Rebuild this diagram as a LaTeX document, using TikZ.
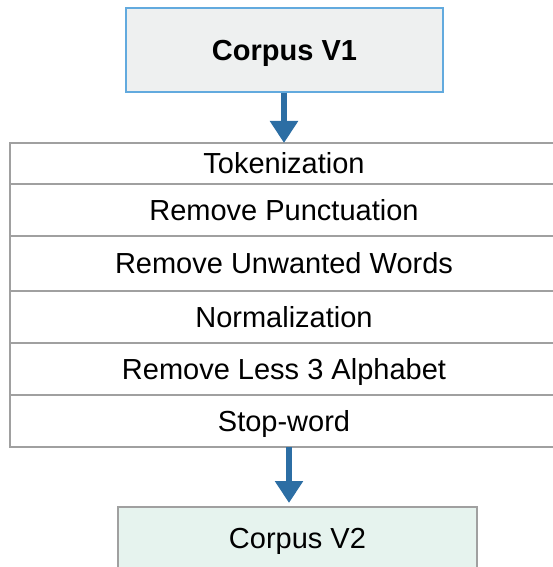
\documentclass[tikz,border=0pt]{standalone}
\usepackage{fontspec}
\setmainfont{Liberation Sans}
\usetikzlibrary{arrows.meta}
\definecolor{arrowblue}{RGB}{44,110,164}
\definecolor{topfill}{RGB}{238,240,240}
\definecolor{topedge}{RGB}{98,170,222}
\definecolor{rowedge}{RGB}{160,160,160}
\definecolor{botfill}{RGB}{230,243,238}
\tikzset{
  txt/.style={font=\fontsize{29}{34}\selectfont, text height=20.8pt, text depth=0pt, inner sep=0pt},
  topbox/.style={txt, draw=topedge, fill=topfill, line width=1.5pt, minimum width=317pt, minimum height=84pt, font=\fontsize{29}{34}\selectfont\bfseries},
  rowbox/.style={txt, draw=rowedge, line width=1.8pt, minimum width=548pt},
  botbox/.style={txt, draw=rowedge, fill=botfill, line width=1.8pt, minimum width=359pt, minimum height=62pt},
  flow/.style={arrowblue, line width=6pt, -{Triangle[width=27pt,length=22pt]}}
}
\begin{document}
\begin{tikzpicture}[x=1pt,y=-1pt]
\useasboundingbox (0,0) rectangle (553,567);
\clip (0,0) rectangle (553,567);
\node[topbox] (v1) at (284.5,50) {Corpus V1};
\node[rowbox, minimum height=41pt] (r1) at (284,163.5) {Tokenization};
\node[rowbox, minimum height=52pt] (r2) at (284,210) {Remove Punctuation};
\node[rowbox, minimum height=55pt] (r3) at (284,263.5) {Remove Unwanted Words};
\node[rowbox, minimum height=52pt] (r4) at (284,317) {Normalization};
\node[rowbox, minimum height=52pt] (r5) at (284,369) {Remove Less 3 Alphabet};
\node[rowbox, minimum height=52pt] (r6) at (284,421) {Stop-word};
\node[botbox] (v2) at (297.5,538) {Corpus V2};
\coordinate (t1) at (284,143);
\coordinate (s2) at (289,447);
\coordinate (t2) at (289,503);
\draw[flow] (v1.south -| t1) -- (t1);
\draw[flow] (s2) -- (t2);
\end{tikzpicture}
\end{document}
